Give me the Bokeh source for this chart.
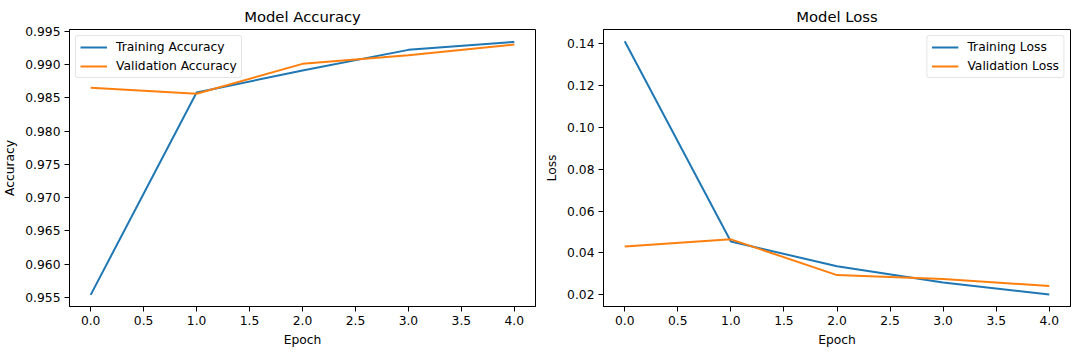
from bokeh.plotting import figure
from bokeh.layouts import row
from bokeh.models import FixedTicker, NumeralTickFormatter, Range1d, Legend, LegendItem
from bokeh.embed import file_html
from bokeh.resources import INLINE

epochs = [0, 1, 2, 3, 4]
train_acc = [0.9554, 0.9858, 0.9891, 0.9922, 0.9934]
val_acc = [0.9865, 0.9856, 0.9901, 0.9914, 0.9930]
train_loss = [0.1412, 0.0455, 0.0336, 0.0259, 0.0201]
val_loss = [0.0431, 0.0465, 0.0294, 0.0275, 0.0242]

x_ticks = [0.0, 0.5, 1.0, 1.5, 2.0, 2.5, 3.0, 3.5, 4.0]
acc_ticks = [0.955, 0.960, 0.965, 0.970, 0.975, 0.980, 0.985, 0.990, 0.995]
loss_ticks = [0.02, 0.04, 0.06, 0.08, 0.10, 0.12, 0.14]

BLUE = "#1f77b4"
ORANGE = "#ff7f0e"
FONT = "DejaVu Sans"
TICK_FS = "12.3px"


def make_fig(title, ylabel, yr, yticks, yfmt, left_border, right_border,
             ys, labels, legend_loc):
    p = figure(width=540, height=355, output_backend="svg", toolbar_location=None,
               x_range=Range1d(-0.2, 4.2), y_range=Range1d(*yr),
               min_border_left=left_border, min_border_right=right_border,
               min_border_top=29, min_border_bottom=49,
               background_fill_color="white", border_fill_color="white")
    p.title.text = title
    p.title.align = "center"
    p.title.text_font = FONT
    p.title.text_font_size = "14.8px"
    p.title.text_font_style = "normal"
    p.title.text_color = "black"
    p.grid.visible = False
    p.outline_line_color = "black"
    p.outline_line_width = 1
    p.outline_line_alpha = 1

    for ax in (p.xaxis[0], p.yaxis[0]):
        ax.major_label_text_font = FONT
        ax.major_label_text_font_size = TICK_FS
        ax.major_label_text_color = "black"
        ax.axis_label_text_font = FONT
        ax.axis_label_text_font_size = TICK_FS
        ax.axis_label_text_font_style = "normal"
        ax.axis_label_text_color = "black"
        ax.major_tick_in = 0
        ax.major_tick_out = 5
        ax.minor_tick_line_color = None
        ax.axis_line_color = "black"
        ax.major_tick_line_color = "black"
        ax.major_label_standoff = 4
        ax.axis_label_standoff = 5

    p.xaxis[0].ticker = FixedTicker(ticks=x_ticks)
    p.xaxis[0].formatter = NumeralTickFormatter(format="0.0")
    p.xaxis[0].axis_label = "Epoch"
    p.yaxis[0].ticker = FixedTicker(ticks=yticks)
    p.yaxis[0].formatter = NumeralTickFormatter(format=yfmt)
    p.yaxis[0].axis_label = ylabel

    r1 = p.line(epochs, ys[0], line_color=BLUE, line_width=2)
    r2 = p.line(epochs, ys[1], line_color=ORANGE, line_width=2)
    leg = Legend(items=[LegendItem(label=labels[0], renderers=[r1]),
                        LegendItem(label=labels[1], renderers=[r2])],
                 location=legend_loc)
    leg.label_text_font = FONT
    leg.label_text_font_size = TICK_FS
    leg.label_text_color = "black"
    leg.border_line_color = "#cccccc"
    leg.border_line_width = 1
    leg.border_radius = 3
    leg.background_fill_alpha = 0.8
    leg.glyph_width = 27
    leg.glyph_height = 14
    leg.label_standoff = 9
    leg.label_height = 14
    leg.spacing = 5
    leg.padding = 4
    leg.margin = 6
    p.add_layout(leg)
    return p


p1 = make_fig("Model Accuracy", "Accuracy", (0.95365, 0.99526), acc_ticks, "0.000",
              68, 5, (train_acc, val_acc), ("Training Accuracy", "Validation Accuracy"),
              "top_left")
p2 = make_fig("Model Loss", "Loss", (0.0144, 0.1468), loss_ticks, "0.00",
              63, 10, (train_loss, val_loss), ("Training Loss", "Validation Loss"),
              "top_right")

layout = row(p1, p2)
open("out.html", "w").write(file_html(layout, INLINE))
